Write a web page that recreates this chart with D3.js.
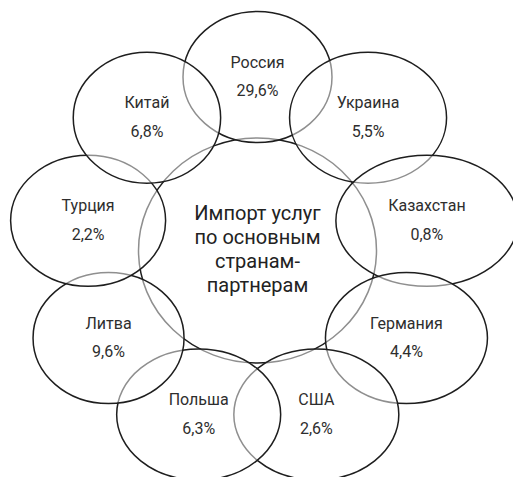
<!DOCTYPE html>
<html>
<head>
<meta charset="utf-8">
<script src="https://cdn.jsdelivr.net/npm/d3@7"></script>
<style>
  html, body { margin: 0; padding: 0; background: #fff; }
  svg { display: block; }
</style>
</head>
<body>
<svg id="chart" width="513" height="477"></svg>
<script>
// Partner countries, clockwise from the top, and their share of services imports (%)
const countries = ["Россия", "Украина", "Казахстан", "Германия", "США", "Польша", "Литва", "Турция", "Китай"];
const shares = [29.6, 5.5, 0.8, 4.4, 2.6, 6.3, 9.6, 2.2, 6.8];
const centerLines = ["Импорт услуг", "по основным", "странам-", "партнерам"];

// Horizontal half-widths of the outer bubbles (layout only)
const bubbleRx = [74.5, 78.5, 91, 81, 82.5, 82, 75.5, 77.5, 73.7];
const bubbleRy = 65.5;

const svg = d3.select("#chart");
const cx = 257.5, cy = 251;
const ringRx = 172, ringRy = 174;

const angle = d3.scaleLinear().domain([0, countries.length]).range([0, 2 * Math.PI]);
const fmt = v => d3.format(".1f")(v).replace(".", ",") + "%";

const nodes = countries.map((name, i) => ({
  name,
  value: shares[i],
  x: cx + ringRx * Math.sin(angle(i)),
  y: cy - ringRy * Math.cos(angle(i)),
  rx: bubbleRx[i]
}));

const shapeStyle = sel => sel
  .attr("fill", "#fff")
  .attr("fill-opacity", 0.5)
  .attr("stroke", "#1e1e1e")
  .attr("stroke-width", 1.5);

// central circle first, then the bubbles in clockwise order so each one
// veils the outlines beneath it
svg.append("ellipse")
  .attr("cx", cx).attr("cy", cy - 0.5)
  .attr("rx", 119).attr("ry", 112.5)
  .call(shapeStyle);

svg.selectAll("ellipse.bubble")
  .data(nodes)
  .join("ellipse")
  .attr("class", "bubble")
  .attr("cx", d => d.x).attr("cy", d => d.y)
  .attr("rx", d => d.rx).attr("ry", bubbleRy)
  .call(shapeStyle);

const font = "Roboto, 'Open Sans', sans-serif";

const labels = svg.selectAll("g.label")
  .data(nodes)
  .join("g")
  .attr("class", "label")
  .attr("transform", d => `translate(${d.x},${d.y})`)
  .attr("font-family", font)
  .attr("font-size", 16)
  .attr("fill", "#2e2e2e")
  .attr("text-anchor", "middle");

labels.append("text").attr("y", -9.5).text(d => d.name);
labels.append("text").attr("y", 19).text(d => fmt(d.value));

svg.append("g")
  .attr("font-family", font)
  .attr("font-size", 20)
  .attr("fill", "#222")
  .attr("text-anchor", "middle")
  .selectAll("text")
  .data(centerLines)
  .join("text")
  .attr("x", cx)
  .attr("y", (d, i) => 220 + i * 24)
  .text(d => d);
</script>
</body>
</html>
